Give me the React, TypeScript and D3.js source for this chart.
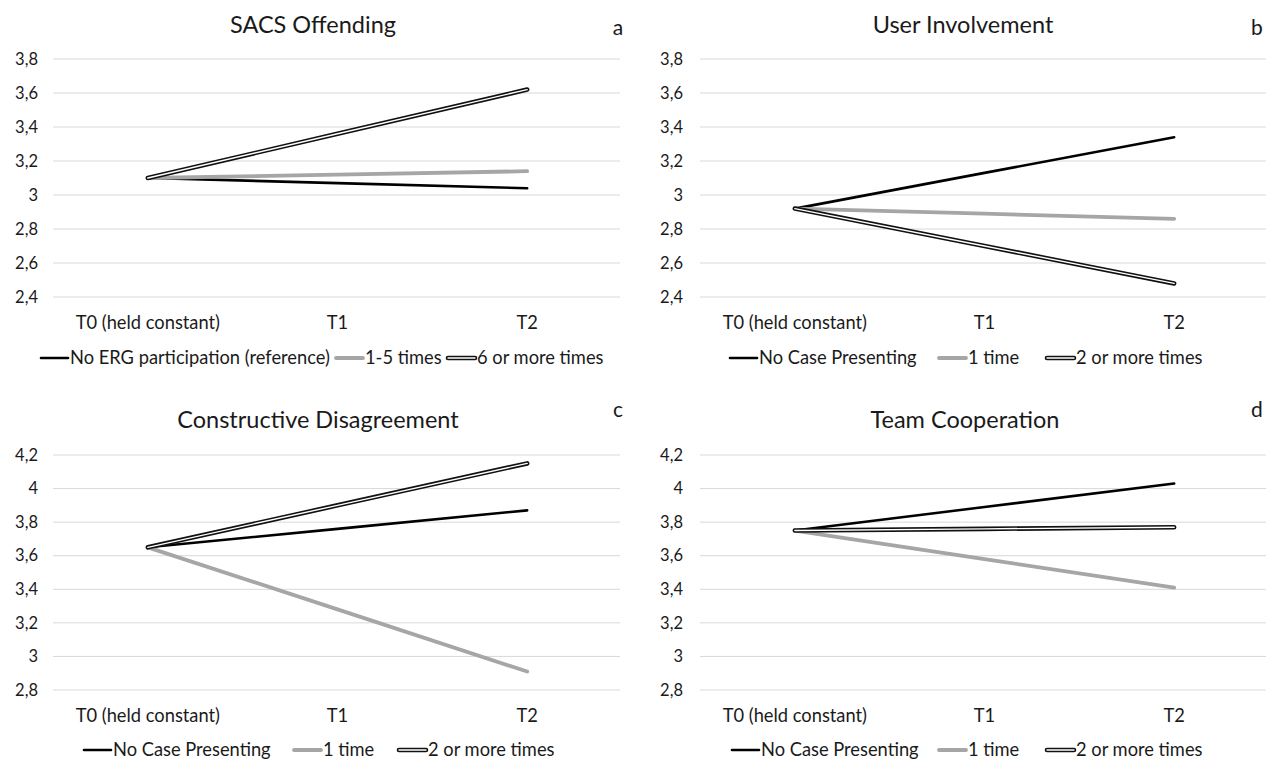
import React from "react";
import * as d3 from "d3";

const categories = ["T0 (held constant)", "T1", "T2"];
const panelTitles = ["SACS Offending", "User Involvement", "Constructive Disagreement", "Team Cooperation"];
const panelLetters = ["a", "b", "c", "d"];
const ergNames = ["No ERG participation (reference)", "1-5 times", "6 or more times"];
const caseNames = ["No Case Presenting", "1 time", "2 or more times"];

const sacsNone = [3.1, 3.07, 3.04];
const sacsFew = [3.1, 3.12, 3.14];
const sacsMany = [3.1, 3.36, 3.62];

const userNone = [2.92, 3.13, 3.34];
const userOne = [2.92, 2.89, 2.86];
const userMany = [2.92, 2.7, 2.48];

const constrNone = [3.65, 3.76, 3.87];
const constrOne = [3.65, 3.28, 2.91];
const constrMany = [3.65, 3.9, 4.15];

const teamNone = [3.75, 3.89, 4.03];
const teamOne = [3.75, 3.58, 3.41];
const teamMany = [3.75, 3.76, 3.77];

const ticksTop = [2.4, 2.6, 2.8, 3, 3.2, 3.4, 3.6, 3.8];
const ticksBottom = [2.8, 3, 3.2, 3.4, 3.6, 3.8, 4, 4.2];

const FONT = "Lato, 'Open Sans', sans-serif";
const TXT = "#1a1a1a";
const LABEL_SIZE = 18.3;
const TICK_SIZE = 16.5;
const TITLE_SIZE = 23.5;

type Layout = {
  x0: number; x1: number; gx1: number; yBottom: number; yTop: number;
  labelRight: number; titleX: number; titleY: number; letterX: number; letterY: number;
  legendX: number[]; legendY: number;
};

const panels = [
  { title: panelTitles[0], letter: panelLetters[0], names: ergNames, series: [sacsNone, sacsFew, sacsMany], ticks: ticksTop,
    lay: { x0: 53, x1: 622, gx1: 620, yBottom: 297, yTop: 59, labelRight: 38, titleX: 313, titleY: 33, letterX: 618, letterY: 35, legendX: [41, 336, 448], legendY: 358 } },
  { title: panelTitles[1], letter: panelLetters[1], names: caseNames, series: [userNone, userOne, userMany], ticks: ticksTop,
    lay: { x0: 700, x1: 1269, gx1: 1266, yBottom: 297, yTop: 59, labelRight: 683, titleX: 963, titleY: 33, letterX: 1257, letterY: 35, legendX: [730, 939, 1047], legendY: 358 } },
  { title: panelTitles[2], letter: panelLetters[2], names: caseNames, series: [constrNone, constrOne, constrMany], ticks: ticksBottom,
    lay: { x0: 53, x1: 622, gx1: 620, yBottom: 690, yTop: 455, labelRight: 38, titleX: 318, titleY: 428, letterX: 618, letterY: 417, legendX: [84, 294, 399], legendY: 750 } },
  { title: panelTitles[3], letter: panelLetters[3], names: caseNames, series: [teamNone, teamOne, teamMany], ticks: ticksBottom,
    lay: { x0: 700, x1: 1269, gx1: 1266, yBottom: 690, yTop: 455, labelRight: 683, titleX: 965, titleY: 428, letterX: 1257, letterY: 417, legendX: [732, 939, 1047], legendY: 750 } },
];

const fmt = (v: number) => (Number.isInteger(v) ? String(v) : v.toFixed(1).replace(".", ","));

function SeriesPath({ d, idx }: { d: string; idx: number }) {
  if (idx === 0) return <path d={d} fill="none" stroke="#000" strokeWidth={2.6} strokeLinecap="round" />;
  if (idx === 1) return <path d={d} fill="none" stroke="#a6a6a6" strokeWidth={3.8} strokeLinecap="round" />;
  return (
    <g>
      <path d={d} fill="none" stroke="#111" strokeWidth={4.6} strokeLinecap="round" strokeLinejoin="round" />
      <path d={d} fill="none" stroke="#fff" strokeWidth={1.4} strokeLinecap="round" strokeLinejoin="round" />
    </g>
  );
}

function Panel({ p }: { p: typeof panels[number] }) {
  const L: Layout = p.lay;
  const x = d3.scaleBand<string>().domain(categories).range([L.x0, L.x1]);
  const y = d3.scaleLinear().domain([p.ticks[0], p.ticks[p.ticks.length - 1]]).range([L.yBottom, L.yTop]);
  const cx = (c: string) => (x(c) as number) + x.bandwidth() / 2;
  const line = d3.line<number>().x((_, i) => cx(categories[i])).y((v) => y(v));
  return (
    <g>
      <text x={L.titleX} y={L.titleY} textAnchor="middle" fontSize={TITLE_SIZE} fill={TXT} fontFamily={FONT}>{p.title}</text>
      <text x={L.letterX} y={L.letterY} textAnchor="middle" fontSize={21} fill={TXT} fontFamily={FONT}>{p.letter}</text>
      {p.ticks.map((t) => (
        <g key={t}>
          <line x1={L.x0} x2={L.gx1} y1={y(t)} y2={y(t)} stroke="#d9d9d9" strokeWidth={1} />
          <text x={L.labelRight} y={y(t)} dy="0.35em" textAnchor="end" fontSize={TICK_SIZE} fill={TXT} fontFamily={FONT}>{fmt(t)}</text>
        </g>
      ))}
      {categories.map((c) => (
        <text key={c} x={cx(c)} y={L.yBottom + 26} dy="0.35em" textAnchor="middle" fontSize={LABEL_SIZE} fill={TXT} fontFamily={FONT}>{c}</text>
      ))}
      {p.series.map((s, i) => (
        <SeriesPath key={i} d={line(s) as string} idx={i} />
      ))}
      {p.names.map((n, i) => {
        const lx = L.legendX[i];
        const d = `M${lx},${L.legendY}L${lx + 27},${L.legendY}`;
        return (
          <g key={n}>
            <SeriesPath d={d} idx={i} />
            <text x={lx + 29} y={L.legendY} dy="0.35em" fontSize={LABEL_SIZE} fill={TXT} fontFamily={FONT}>{n}</text>
          </g>
        );
      })}
    </g>
  );
}

export default function App() {
  return (
    <svg width={1266} height={762} style={{ position: "absolute", left: 0, top: 0, background: "#fff" }}>
      <rect width={1266} height={762} fill="#fff" />
      {panels.map((p) => (
        <Panel key={p.letter} p={p} />
      ))}
    </svg>
  );
}
